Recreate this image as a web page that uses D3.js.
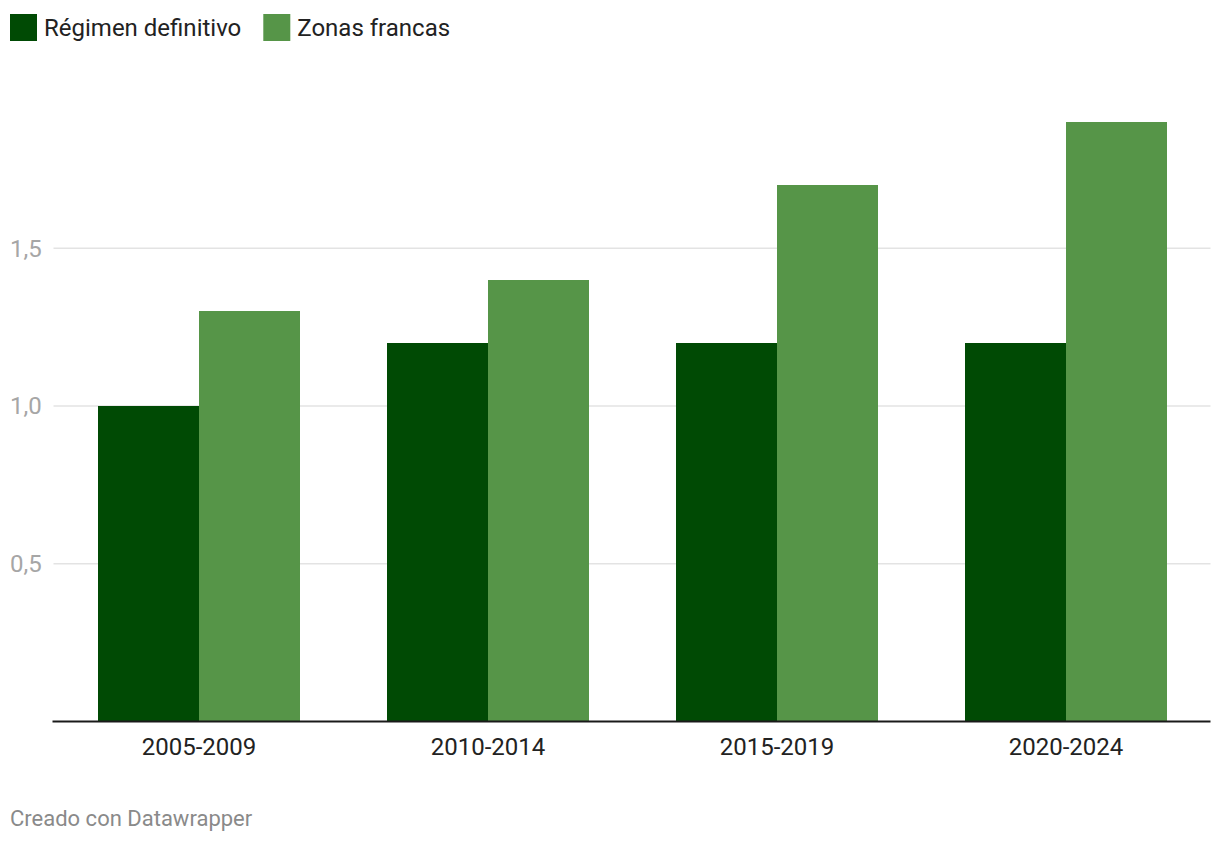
<!DOCTYPE html>
<html>
<head>
<meta charset="utf-8">
<script src="https://cdn.jsdelivr.net/npm/d3@7"></script>
<style>
  body { margin: 0; background: #fff; font-family: Roboto, sans-serif; }
  svg { display: block; }
</style>
</head>
<body>
<svg id="chart" width="1220" height="844"></svg>
<script>
const categories = ["2005-2009", "2010-2014", "2015-2019", "2020-2024"];
const seriesNames = ["Régimen definitivo", "Zonas francas"];
const regimenDefinitivo = [1.0, 1.2, 1.2, 1.2];
const zonasFrancas = [1.3, 1.4, 1.7, 1.9];
const yTicks = [0.5, 1.0, 1.5];
const yTickLabels = ["0,5", "1,0", "1,5"];
const colors = ["#004a04", "#569548"];
const footer = "Creado con Datawrapper";

(function () {
const svg = d3.select("#chart");
const mLeft = 54.5, mRight = 1210.5, mBottom = 721.5;

const x = d3.scaleBand().domain(categories).range([mLeft, mRight]).paddingInner(0.3).paddingOuter(0.15);
const xs = d3.scaleBand().domain(seriesNames).range([0, x.bandwidth()]);
const y = d3.scaleLinear().domain([0, 1.9]).range([mBottom, mBottom - 1.9 * 315.5]);

// gridlines
const grid = svg.append("g");
yTicks.forEach((t, i) => {
  grid.append("line").attr("x1", mLeft - 1).attr("x2", mRight).attr("y1", y(t)).attr("y2", y(t))
    .attr("stroke", "#e3e3e3").attr("stroke-width", 1.5);
  grid.append("text").attr("x", 10).attr("y", y(t)).attr("dy", "0.35em")
    .attr("font-size", 24).attr("fill", "#a6a6a6").text(yTickLabels[i]);
});

// bars
const data = categories.map((c, i) => ({ c, vals: [regimenDefinitivo[i], zonasFrancas[i]] }));
const groups = svg.append("g").selectAll("g").data(data).join("g")
  .attr("transform", d => `translate(${x(d.c)},0)`);
groups.selectAll("rect").data(d => d.vals.map((v, j) => ({ v, s: seriesNames[j], j })))
  .join("rect")
  .attr("x", d => xs(d.s))
  .attr("width", xs.bandwidth())
  .attr("y", d => y(d.v))
  .attr("height", d => y(0) - y(d.v))
  .attr("fill", d => colors[d.j])
  .attr("shape-rendering", "crispEdges");

// baseline
svg.append("line").attr("x1", mLeft - 2).attr("x2", mRight).attr("y1", mBottom).attr("y2", mBottom)
  .attr("stroke", "#1a1a1a").attr("stroke-width", 2);

// x axis labels
const xAxis = d3.axisBottom(x).tickSize(0).tickPadding(16);
const xg = svg.append("g").attr("transform", `translate(0,${mBottom})`).call(xAxis);
xg.select(".domain").remove();
xg.selectAll("text").attr("font-size", 24).attr("fill", "#222").attr("font-family", "Roboto, sans-serif");

// legend
const legend = svg.append("g");
let lx = 10;
seriesNames.forEach((s, i) => {
  legend.append("rect").attr("x", lx).attr("y", 14).attr("width", 27).attr("height", 27).attr("fill", colors[i]);
  const t = legend.append("text").attr("x", lx + 34).attr("y", 27.5).attr("dy", "0.35em")
    .attr("font-size", 24).attr("fill", "#222").text(s);
  lx = lx + 34 + t.node().getComputedTextLength() + 22;
});

// footer
svg.append("text").attr("x", 10).attr("y", 818).attr("dy", "0.35em")
  .attr("font-size", 22).attr("fill", "#8a8a8a").text(footer);
})();
</script>
</body>
</html>
